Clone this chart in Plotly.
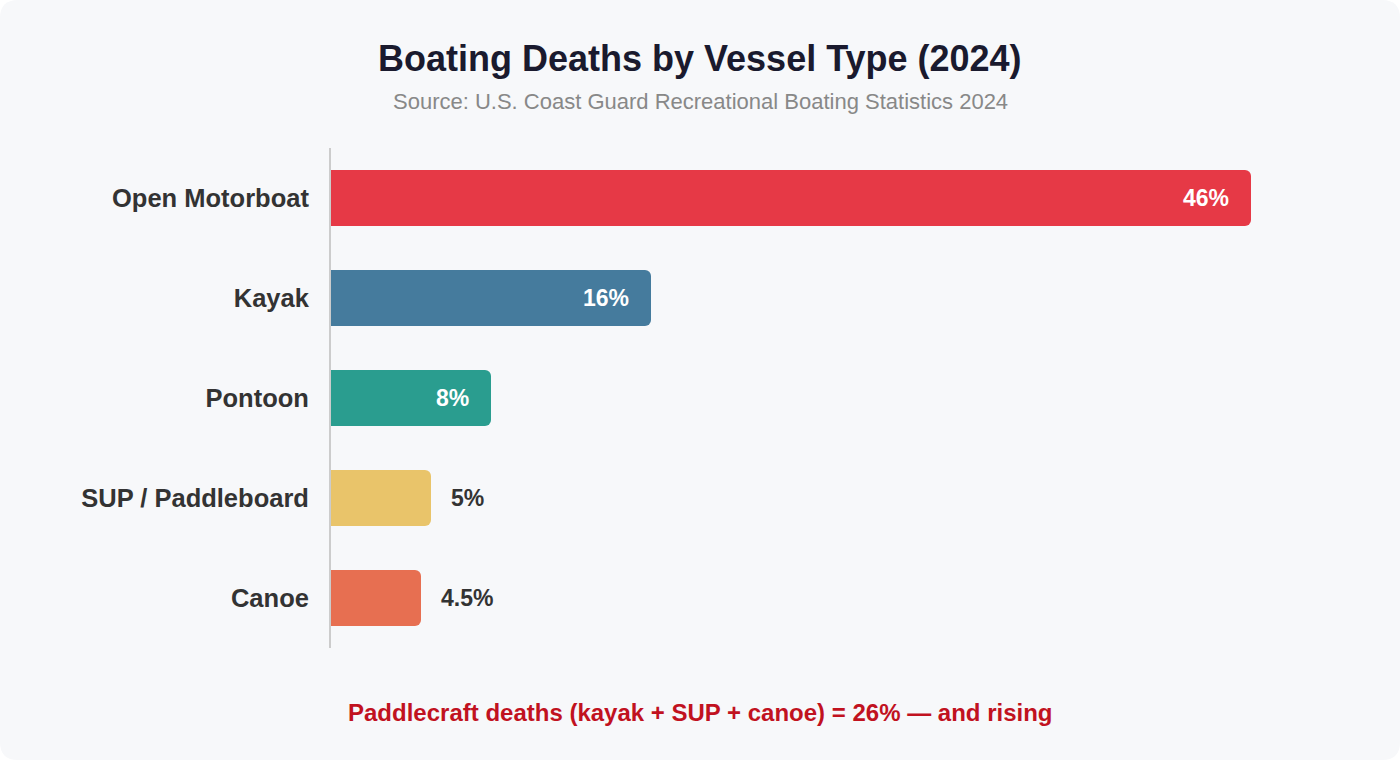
"""
Boating deaths by vessel type, 2024: horizontal bar chart.
"""

import plotly.graph_objects as go

# data
vessels = ["Open Motorboat", "Kayak", "Pontoon", "SUP / Paddleboard", "Canoe"]
share_pct = [46, 16, 8, 5, 4.5]
value_labels = ["46%", "16%", "8%", "5%", "4.5%"]
bar_colors = ["#e63946", "#457b9d", "#2a9d8f", "#e9c46a", "#e76f51"]

TITLE = "Boating Deaths by Vessel Type (2024)"
SUBTITLE = "Source: U.S. Coast Guard Recreational Boating Statistics 2024"
FOOTNOTE = "Paddlecraft deaths (kayak + SUP + canoe) = 26% \u2014 and rising"

W, H = 1400, 760
ML, MR, MT, MB = 331, 69, 148, 112
PW, PH = W - ML - MR, H - MT - MB
FONT = "Liberation Sans, Arial, Helvetica, sans-serif"


def px(x):
    return (x - ML) / PW


def py(y):
    return (H - MB - y) / PH


def card_path(r=18):
    x0, x1 = px(0), px(W)
    y0, y1 = py(0), py(H)
    rx, ry = r / PW, r / PH
    return (
        f"M {x0 + rx},{y0} L {x1 - rx},{y0} Q {x1},{y0} {x1},{y0 - ry} "
        f"L {x1},{y1 + ry} Q {x1},{y1} {x1 - rx},{y1} "
        f"L {x0 + rx},{y1} Q {x0},{y1} {x0},{y1 + ry} "
        f"L {x0},{y0 - ry} Q {x0},{y0} {x0 + rx},{y0} Z"
    )


fig = go.Figure(
    go.Bar(
        x=share_pct,
        y=vessels,
        orientation="h",
        width=0.56,
        marker=dict(color=bar_colors, line=dict(width=0)),
        hoverinfo="skip",
    )
)

# value labels: inside for the long bars, outside for the short ones
for v, name, lab in zip(share_pct, vessels, value_labels):
    inside = v >= 8
    fig.add_annotation(
        x=v, y=name, xref="x", yref="y",
        text=f"<b>{lab}</b>",
        showarrow=False,
        xanchor="right" if inside else "left",
        xshift=-20 if inside else 18,
        font=dict(family=FONT, size=23, color="#ffffff" if inside else "#333333"),
    )

fig.add_annotation(
    x=px(700), y=py(58), xref="paper", yref="paper",
    text=f"<b>{TITLE}</b>", showarrow=False, xanchor="center", yanchor="middle",
    font=dict(family=FONT, size=36, color="#1a1a2e"),
)
fig.add_annotation(
    x=px(700), y=py(102), xref="paper", yref="paper",
    text=SUBTITLE, showarrow=False, xanchor="center", yanchor="middle",
    font=dict(family=FONT, size=22, color="#888888"),
)
fig.add_annotation(
    x=px(700), y=py(712), xref="paper", yref="paper",
    text=f"<b>{FOOTNOTE}</b>", showarrow=False, xanchor="center", yanchor="middle",
    font=dict(family=FONT, size=24, color="#c1121f"),
)

fig.add_shape(
    type="path", xref="paper", yref="paper", path=card_path(),
    fillcolor="#f7f8fa", line=dict(width=0), layer="below",
)

fig.update_layout(
    width=W,
    height=H,
    margin=dict(l=ML, r=MR, t=MT, b=MB, pad=0),
    paper_bgcolor="#ffffff",
    plot_bgcolor="rgba(0,0,0,0)",
    barcornerradius=6,
    showlegend=False,
    xaxis=dict(range=[0, 50], visible=False, fixedrange=True),
    yaxis=dict(
        autorange="reversed",
        showgrid=False,
        zeroline=False,
        showline=True,
        linecolor="#cccccc",
        linewidth=2,
        ticks="",
        ticklabelstandoff=15,
        tickfont=dict(family=FONT, size=25.5, color="#333333", weight="bold"),
        fixedrange=True,
    ),
)

# drop the default body margin so the 1400x760 figure fills the window
fig.write_html(
    "out.html",
    config={"displayModeBar": False},
    post_script="document.body.style.margin='0';",
)
